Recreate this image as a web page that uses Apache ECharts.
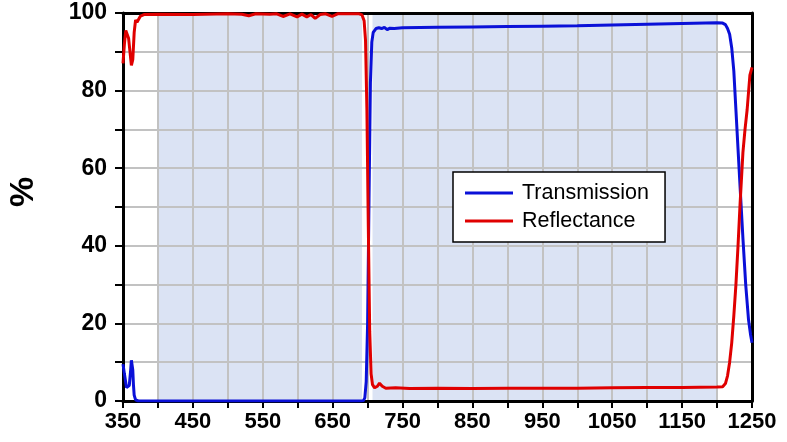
<!DOCTYPE html>
<html><head><meta charset="utf-8">
<script src="https://cdn.jsdelivr.net/npm/echarts@6/dist/echarts.min.js"></script>
<style>html,body{margin:0;padding:0;background:#fff}#c{width:787px;height:442px}</style>
</head><body><div id="c"></div>
<script>
const transWl = [350,352,355,357,359,361,362,363,364,365,366,368,372,400,500,600,690,694,696,698,700,702,704,706,708,712,716,720,724,728,732,738,750,800,850,900,950,1000,1050,1100,1150,1200,1208,1212,1215,1218,1221,1224,1227,1230,1233,1237,1241,1245,1248,1250];
const transVal = [9.5,7,3.5,3,4,8,10.5,11,8,4,1.5,0.3,0,0,0,0,0,0.1,0.8,5,20,52,82,92.5,95,96,96.2,96,96.3,95.7,96.1,96,96.2,96.3,96.4,96.5,96.6,96.7,96.9,97.1,97.3,97.5,97.4,97,96,94.5,91,85,75,65,55,42,30,21,17,15];
const reflWl = [350,352,354,356,358,360,362,363,364,366,368,370,372,375,380,400,450,500,520,530,540,560,570,579,589,599,606,613,619,625,632,640,649,657,670,688,692,695,697,699,701,703,705,707,710,714,717,721,726,740,760,800,850,900,950,1000,1050,1100,1150,1200,1208,1212,1215,1218,1221,1224,1227,1230,1233,1237,1240,1243,1247,1250];
const reflVal = [87,92,95.5,95,93.5,90,86.5,86,88,95,98.2,97.6,98,99.2,99.6,99.7,99.6,99.8,99.7,99.3,99.8,99.7,99.8,99.1,99.8,99.0,99.7,99.0,99.6,98.6,99.6,99.8,99.1,99.8,99.8,99.8,99.5,98,93,75,45,18,7,4.2,3.4,3.8,4.6,3.8,3.3,3.4,3.2,3.3,3.2,3.3,3.3,3.3,3.4,3.5,3.5,3.6,3.7,4.5,6.5,10,15,22,30,40,51,64,70,75,84,86];
const shadeBands = [[400,692],[707,1200]];
const xTickLabels = [350,450,550,650,750,850,950,1050,1150,1250];
const yTickLabels = [0,20,40,60,80,100];
const seriesNames = ['Transmission','Reflectance'];

const chart = echarts.init(document.getElementById('c'));
const font = 'Arial, "Liberation Sans", sans-serif';
const frameAxis = {show:true,axisLine:{show:true,onZero:false,lineStyle:{color:'#000',width:3}},axisTick:{show:false},axisLabel:{show:false},splitLine:{show:false}};
chart.setOption({
  animation:false,
  grid:{left:123,right:35,top:13,bottom:41},
  xAxis:[{type:'value',min:350,max:1250,interval:50,
    axisLine:{lineStyle:{color:'#000',width:3}},
    axisTick:{show:true,length:7,lineStyle:{color:'#000',width:2}},
    splitLine:{show:true,lineStyle:{color:'#c2c2c2',width:2}},
    axisLabel:{interval:0,margin:10,color:'#000',fontWeight:'bold',fontSize:22,fontFamily:font,
      formatter:v=>xTickLabels.indexOf(v)>=0?String(v):''}},
    Object.assign({type:'value',position:'top',min:350,max:1250},frameAxis)],
  yAxis:[{type:'value',min:0,max:100,interval:10,
    axisLine:{show:true,lineStyle:{color:'#000',width:3}},
    axisTick:{show:true,length:8,lineStyle:{color:'#000',width:2}},
    splitLine:{show:true,lineStyle:{color:'#c2c2c2',width:2}},
    axisLabel:{margin:16,color:'#000',fontWeight:'bold',fontSize:23,fontFamily:font,
      formatter:v=>yTickLabels.indexOf(v)>=0?String(v):''}},
    Object.assign({type:'value',position:'right',min:0,max:100},frameAxis)],
  graphic:[{type:'text',x:24,y:192,rotation:Math.PI/2,
    style:{text:'%',font:'bold 34px '+font,fill:'#000',align:'center',verticalAlign:'middle'}}],
  legend:{data:seriesNames,orient:'vertical',left:453,top:172,icon:'rect',
    padding:[10,16,10,12],itemGap:6,itemWidth:48,itemHeight:3,
    backgroundColor:'#fff',borderColor:'#000',borderWidth:1.5,
    textStyle:{fontSize:21.5,fontFamily:font,color:'#000',lineHeight:21,padding:[0,0,0,4]}},
  series:[
    {type:'line',name:'shade',data:[],silent:true,
      markArea:{silent:true,z:-1,itemStyle:{color:'rgba(183,199,233,0.5)'},
        data:shadeBands.map(b=>[{xAxis:b[0]},{xAxis:b[1]}])}},
    {type:'line',name:seriesNames[0],symbol:'none',lineStyle:{color:'#0a10d8',width:3},itemStyle:{color:'#0a10d8'},
      data:transWl.map((w,i)=>[w,transVal[i]])},
    {type:'line',name:seriesNames[1],symbol:'none',lineStyle:{color:'#e00000',width:3},itemStyle:{color:'#e00000'},
      data:reflWl.map((w,i)=>[w,reflVal[i]])}
  ]
});
</script></body></html>
